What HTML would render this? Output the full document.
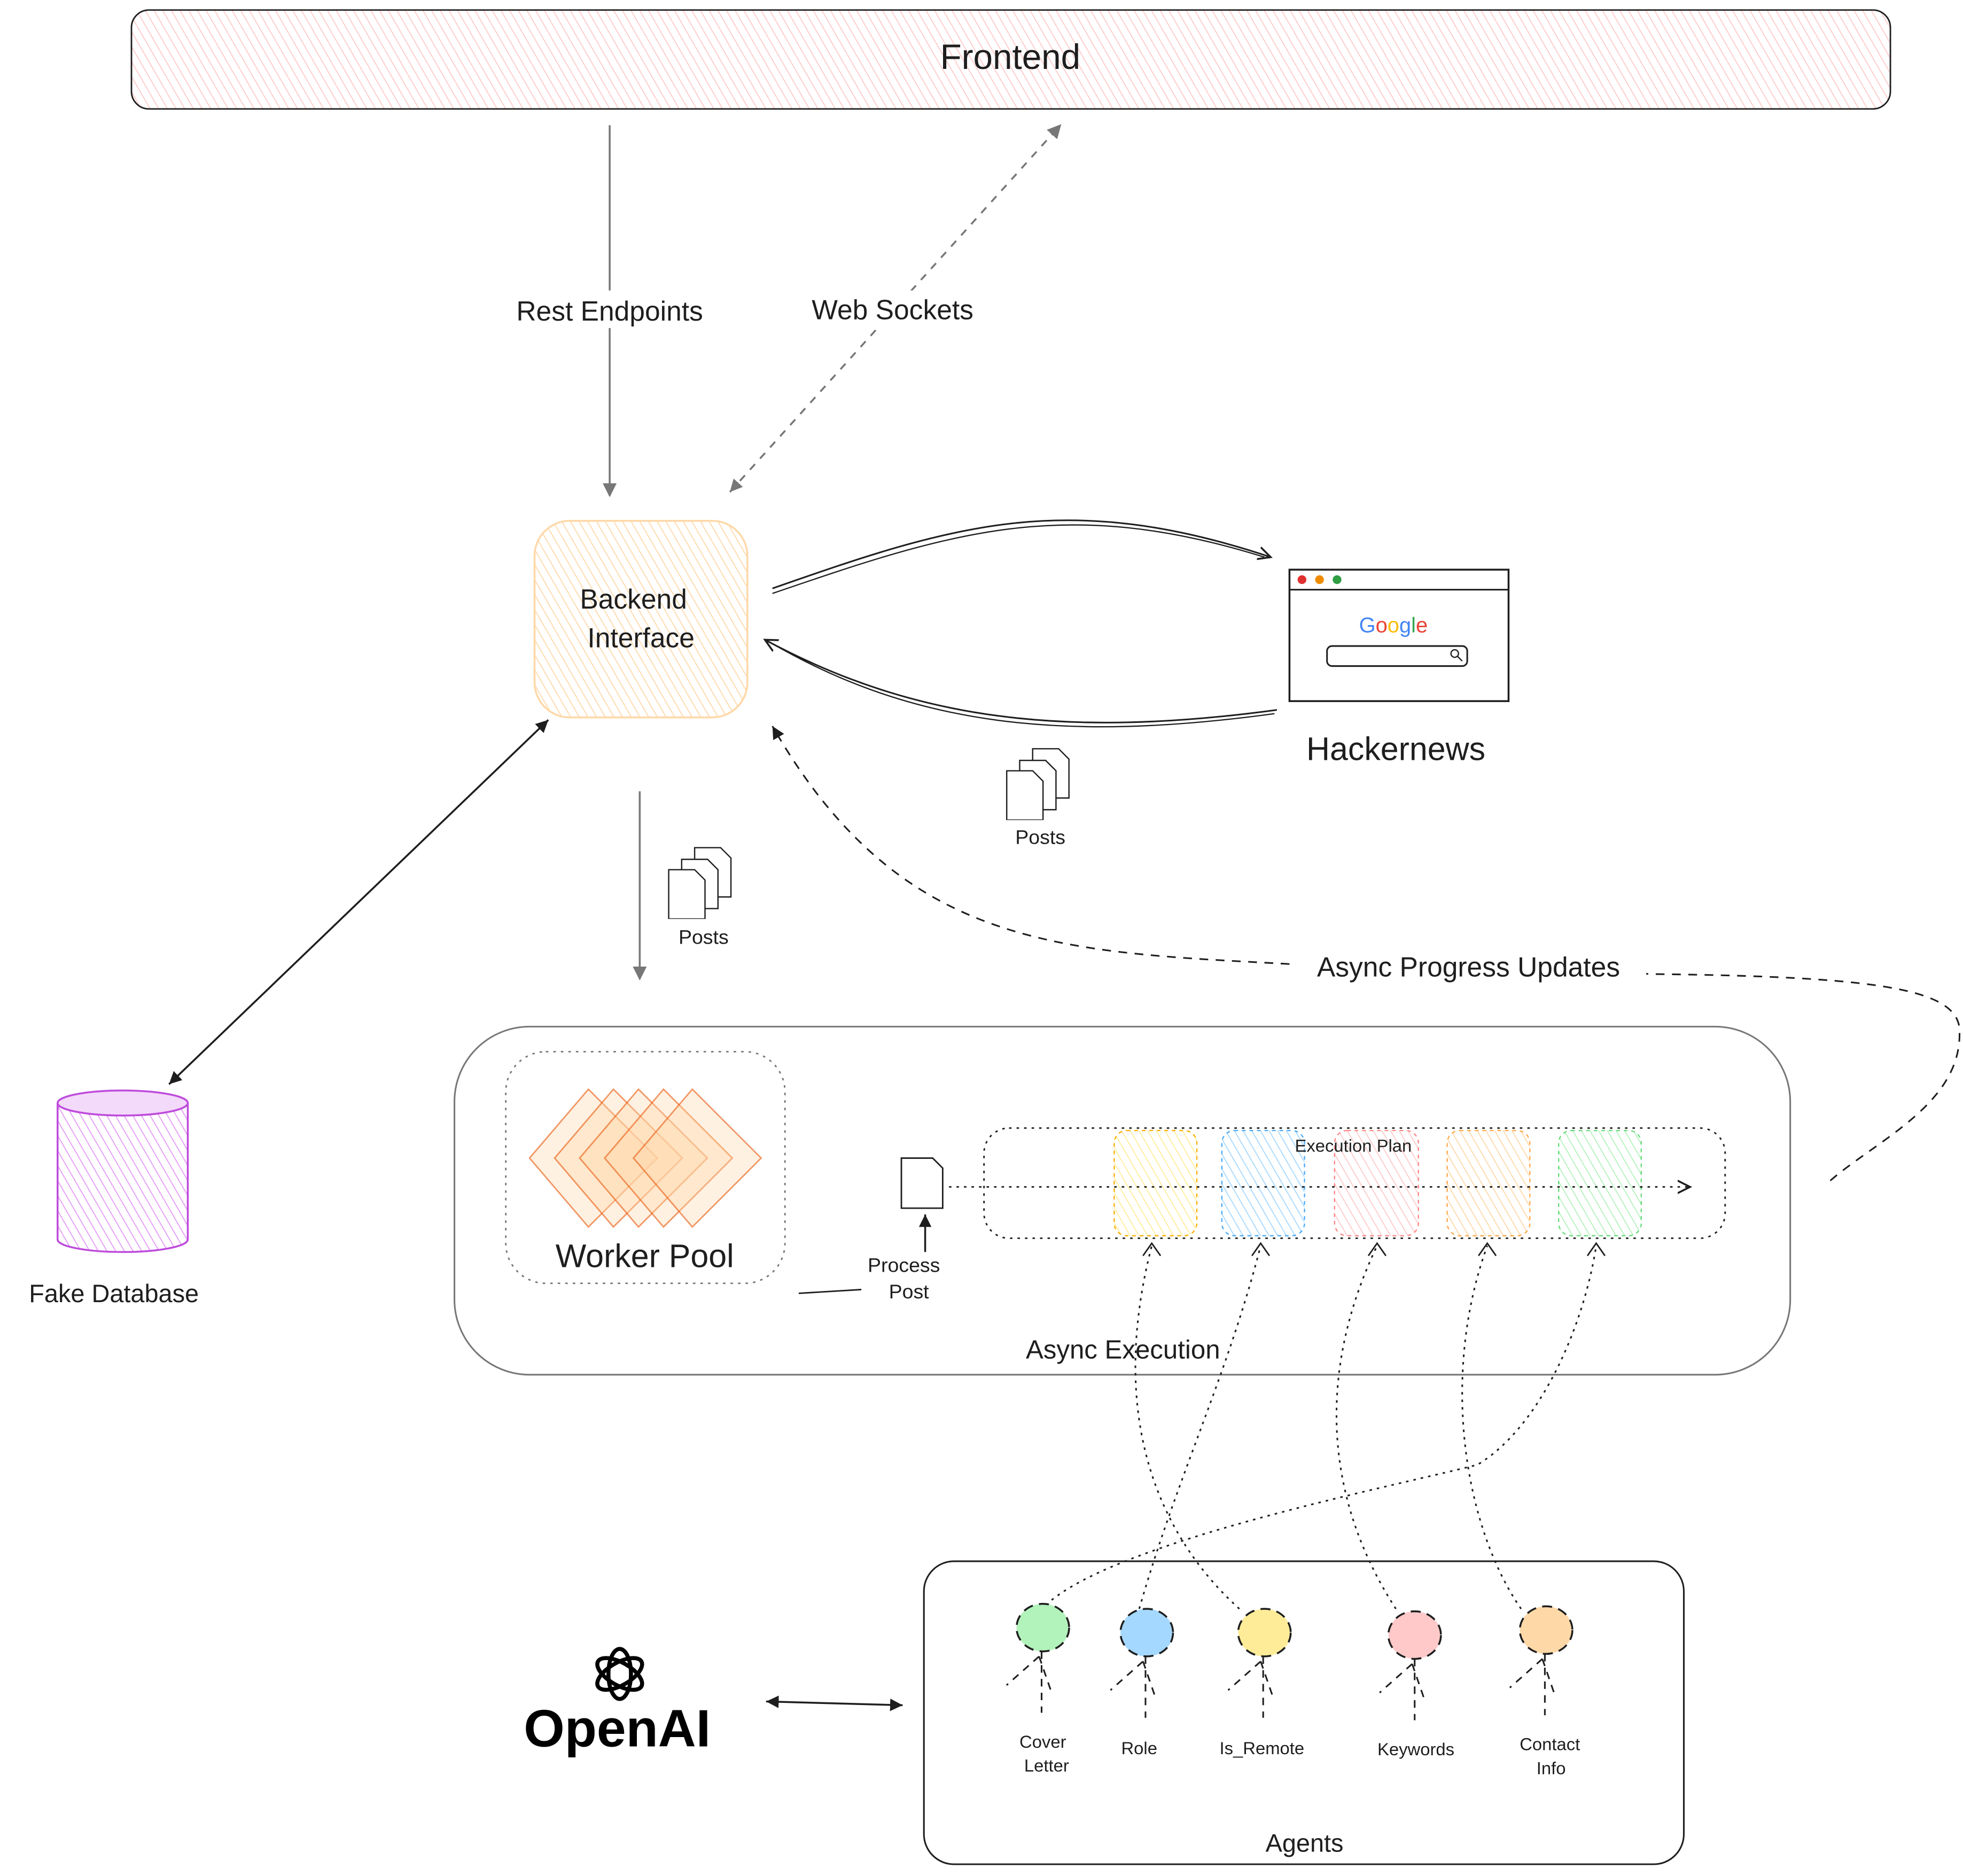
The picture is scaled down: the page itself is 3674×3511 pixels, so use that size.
<!DOCTYPE html>
<html><head><meta charset="utf-8"><style>
html,body{margin:0;padding:0;background:#fff;}
svg{display:block;}
text{font-family:"Liberation Sans",sans-serif;fill:#1e1e1e;}
</style></head><body>
<svg width="3674" height="3511" viewBox="0 0 1568 1498.4" preserveAspectRatio="none" xmlns="http://www.w3.org/2000/svg">
<defs>
<pattern id="hp" width="6" height="6" patternUnits="userSpaceOnUse" patternTransform="rotate(-30)"><rect width="6" height="6" fill="#fff"/><line x1="0" y1="0" x2="0" y2="6" stroke="#ffc9c9" stroke-width="1.5"/></pattern>
<pattern id="ho" width="6" height="6" patternUnits="userSpaceOnUse" patternTransform="rotate(-30)"><rect width="6" height="6" fill="#fff"/><line x1="0" y1="0" x2="0" y2="6" stroke="#ffd8a8" stroke-width="1.5"/></pattern>
<pattern id="hv" width="6" height="6" patternUnits="userSpaceOnUse" patternTransform="rotate(-30)"><rect width="6" height="6" fill="#fff"/><line x1="0" y1="0" x2="0" y2="6" stroke="#e599f7" stroke-width="1.5"/></pattern>
<pattern id="hy" width="6" height="6" patternUnits="userSpaceOnUse" patternTransform="rotate(-30)"><rect width="6" height="6" fill="#fff"/><line x1="0" y1="0" x2="0" y2="6" stroke="#ffec99" stroke-width="1.5"/></pattern>
<pattern id="hb" width="6" height="6" patternUnits="userSpaceOnUse" patternTransform="rotate(-30)"><rect width="6" height="6" fill="#fff"/><line x1="0" y1="0" x2="0" y2="6" stroke="#a5d8ff" stroke-width="1.5"/></pattern>
<pattern id="hk" width="6" height="6" patternUnits="userSpaceOnUse" patternTransform="rotate(-30)"><rect width="6" height="6" fill="#fff"/><line x1="0" y1="0" x2="0" y2="6" stroke="#ffc9c9" stroke-width="1.5"/></pattern>
<pattern id="hg" width="6" height="6" patternUnits="userSpaceOnUse" patternTransform="rotate(-30)"><rect width="6" height="6" fill="#fff"/><line x1="0" y1="0" x2="0" y2="6" stroke="#b2f2bb" stroke-width="1.5"/></pattern>
<marker id="ar" markerWidth="12" markerHeight="12" refX="10" refY="6" orient="auto" markerUnits="userSpaceOnUse"><path d="M0,1 L10,6 L0,11" fill="none" stroke="#1e1e1e" stroke-width="1.5"/></marker>
<marker id="arg" markerWidth="12" markerHeight="12" refX="10" refY="6" orient="auto" markerUnits="userSpaceOnUse"><path d="M0,1 L10,6 L0,11 z" fill="#777" stroke="#777"/></marker>
<marker id="arf" markerWidth="12" markerHeight="12" refX="10" refY="6" orient="auto" markerUnits="userSpaceOnUse"><path d="M0,1 L10,6 L0,11 z" fill="#1e1e1e"/></marker>
<marker id="arfs" markerWidth="12" markerHeight="12" refX="2" refY="6" orient="auto" markerUnits="userSpaceOnUse"><path d="M12,1 L2,6 L12,11 z" fill="#1e1e1e"/></marker>
<marker id="args" markerWidth="12" markerHeight="12" refX="2" refY="6" orient="auto" markerUnits="userSpaceOnUse"><path d="M12,1 L2,6 L12,11 z" fill="#777"/></marker>
<symbol id="docs" viewBox="0 0 52 56">
<g fill="#fff" stroke="#1e1e1e" stroke-width="1"><path d="M22,1 h20 l8,8 v30 h-28z"/><path d="M12,10 h20 l8,8 v30 h-28z"/><path d="M2,18 h20 l8,8 v30 h-28z"/></g>
</symbol>
</defs>

<rect x="105" y="8" width="1405" height="79" rx="14" fill="url(#hp)" stroke="#1e1e1e" stroke-width="1.2"/>
<text x="807" y="55" font-size="28" text-anchor="middle">Frontend</text>

<line x1="487" y1="100" x2="487" y2="396" stroke="#777" stroke-width="1.5" marker-end="url(#arg)"/>
<rect x="395" y="232" width="185" height="30" fill="#fff"/>
<text x="487" y="256" font-size="22" text-anchor="middle">Rest Endpoints</text>
<line x1="583" y1="393" x2="847" y2="100" stroke="#777" stroke-width="1.5" stroke-dasharray="6 6" marker-end="url(#arg)" marker-start="url(#args)"/>
<rect x="636" y="232" width="155" height="30" fill="#fff"/>
<text x="713" y="255" font-size="22" text-anchor="middle">Web Sockets</text>

<rect x="427" y="416" width="170" height="157" rx="28" fill="url(#ho)" stroke="#ffd8a8" stroke-width="1.5"/>
<text x="506" y="486" font-size="22" text-anchor="middle">Backend</text>
<text x="512" y="517" font-size="22" text-anchor="middle">Interface</text>

<path d="M617,470 C760,420 850,390 1015,445" fill="none" stroke="#1e1e1e" stroke-width="1.3" marker-end="url(#ar)"/>
<path d="M617,474 C760,425 850,395 1010,445" fill="none" stroke="#1e1e1e" stroke-width="1"/>
<path d="M1020,567 C850,590 730,575 611,511" fill="none" stroke="#1e1e1e" stroke-width="1.3" marker-end="url(#ar)"/>
<path d="M1018,570 C850,593 730,580 615,513" fill="none" stroke="#1e1e1e" stroke-width="1"/>

<rect x="1030" y="455" width="175" height="105" fill="#fff" stroke="#1e1e1e" stroke-width="1.5"/>
<line x1="1030" y1="471" x2="1205" y2="471" stroke="#1e1e1e" stroke-width="1.3"/>
<circle cx="1040" cy="463" r="3.5" fill="#e03131"/><circle cx="1054" cy="463" r="3.5" fill="#f08c00"/><circle cx="1068" cy="463" r="3.5" fill="#2f9e44"/>
<text x="1113" y="505" font-size="17" text-anchor="middle"><tspan fill="#4285f4">G</tspan><tspan fill="#ea4335">o</tspan><tspan fill="#fbbc05">o</tspan><tspan fill="#4285f4">g</tspan><tspan fill="#34a853">l</tspan><tspan fill="#ea4335">e</tspan></text>
<rect x="1060" y="516" width="112" height="16" rx="4" fill="#fff" stroke="#1e1e1e" stroke-width="1.3"/>
<circle cx="1162" cy="522" r="3" fill="none" stroke="#1e1e1e"/><line x1="1164" y1="524" x2="1168" y2="528" stroke="#1e1e1e"/>
<text x="1115" y="607" font-size="26" text-anchor="middle">Hackernews</text>

<use href="#docs" x="802" y="597" width="54" height="58"/>
<text x="831" y="674" font-size="16" text-anchor="middle">Posts</text>

<line x1="511" y1="632" x2="511" y2="782" stroke="#777" stroke-width="1.5" marker-end="url(#arg)"/>
<use href="#docs" x="532" y="676" width="54" height="58"/>
<text x="562" y="754" font-size="16" text-anchor="middle">Posts</text>

<line x1="438" y1="575" x2="135" y2="866" stroke="#1e1e1e" stroke-width="1.5" marker-end="url(#arf)" marker-start="url(#arfs)"/>
<path d="M46,881 V990 A52,10 0 0 0 150,990 V881" fill="url(#hv)" stroke="#be4bdb" stroke-width="1.5"/>
<ellipse cx="98" cy="881" rx="52" ry="10" fill="#f3d9fa" stroke="#be4bdb" stroke-width="1.5"/>
<text x="91" y="1040" font-size="20" text-anchor="middle">Fake Database</text>

<path d="M1462,943 C1500,910 1570,880 1565,820 C1560,790 1500,780 1320,778 L1210,774" fill="none" stroke="#1e1e1e" stroke-width="1.3" stroke-dasharray="7 6"/>
<path d="M1030,770 C850,760 720,760 617,580" fill="none" stroke="#1e1e1e" stroke-width="1.3" stroke-dasharray="7 6" marker-end="url(#arf)"/>
<rect x="1035" y="758" width="280" height="28" fill="#fff"/>
<text x="1173" y="780" font-size="22" text-anchor="middle">Async Progress Updates</text>

<rect x="363" y="820" width="1067" height="278" rx="60" fill="none" stroke="#777" stroke-width="1.3"/>
<text x="897" y="1085" font-size="21" text-anchor="middle">Async Execution</text>
<rect x="404" y="840" width="223" height="185" rx="32" fill="none" stroke="#777" stroke-width="1.2" stroke-dasharray="2 4"/>
<g fill="#ffd8a8" fill-opacity="0.35" stroke="#e8590c" stroke-opacity="0.6" stroke-width="1.2">
<path d="M470,870 L525,925 L470,980 L423,925 Z"/>
<path d="M490,870 L545,925 L490,980 L443,925 Z"/>
<path d="M510,870 L565,925 L510,980 L463,925 Z"/>
<path d="M530,870 L585,925 L530,980 L483,925 Z"/>
<path d="M553,870 L608,925 L553,980 L506,925 Z"/>
</g>
<text x="515" y="1012" font-size="26" text-anchor="middle">Worker Pool</text>

<path d="M720,925 h25 l8,8 v32 h-33z" fill="#fff" stroke="#1e1e1e" stroke-width="1.2"/>
<line x1="739" y1="1000" x2="739" y2="970" stroke="#1e1e1e" stroke-width="1.5" marker-end="url(#arf)"/>
<text x="722" y="1016" font-size="16" text-anchor="middle">Process</text>
<text x="726" y="1037" font-size="16" text-anchor="middle">Post</text>
<line x1="638" y1="1033" x2="688" y2="1030" stroke="#1e1e1e" stroke-width="1.2"/>

<rect x="786" y="901" width="592" height="88" rx="20" fill="none" stroke="#1e1e1e" stroke-width="1.2" stroke-dasharray="2 4"/>
<rect x="890" y="903" width="66" height="84" rx="10" fill="url(#hy)" stroke="#fab005" stroke-width="1" stroke-dasharray="3 3"/>
<rect x="976" y="903" width="66" height="84" rx="10" fill="url(#hb)" stroke="#4dabf7" stroke-width="1" stroke-dasharray="3 3"/>
<rect x="1066" y="903" width="67" height="84" rx="10" fill="url(#hk)" stroke="#ff8787" stroke-width="1" stroke-dasharray="3 3"/>
<rect x="1156" y="903" width="66" height="84" rx="10" fill="url(#ho)" stroke="#ffa94d" stroke-width="1" stroke-dasharray="3 3"/>
<rect x="1245" y="903" width="66" height="84" rx="10" fill="url(#hg)" stroke="#69db7c" stroke-width="1" stroke-dasharray="3 3"/>
<line x1="758" y1="948" x2="1350" y2="948" stroke="#1e1e1e" stroke-width="1.2" stroke-dasharray="2 4" marker-end="url(#ar)"/>
<text x="1081" y="920" font-size="14" text-anchor="middle">Execution Plan</text>

<g fill="none" stroke="#1e1e1e" stroke-width="1.3" stroke-dasharray="2 4">
<path d="M990,1285 C940,1240 880,1150 920,995"/>
<path d="M910,1285 C940,1180 980,1100 1007,995"/>
<path d="M1115,1285 C1060,1200 1050,1100 1100,995"/>
<path d="M1215,1285 C1170,1220 1150,1100 1188,995"/>
<path d="M840,1278 C900,1230 1100,1190 1180,1170 C1230,1140 1265,1060 1275,995"/>
</g>
<g fill="none" stroke="#1e1e1e" stroke-width="1.2">
<path d="M913,1003 L920,993 L927,1003"/><path d="M1000,1003 L1007,993 L1014,1003"/><path d="M1093,1003 L1100,993 L1107,1003"/><path d="M1181,1003 L1188,993 L1195,1003"/><path d="M1268,1003 L1275,993 L1282,1003"/>
</g>

<rect x="738" y="1247" width="607" height="242" rx="24" fill="none" stroke="#1e1e1e" stroke-width="1.3"/>
<text x="1042" y="1479" font-size="20" text-anchor="middle">Agents</text>
<g stroke="#1e1e1e" stroke-width="1.5" stroke-dasharray="8 5">
<ellipse cx="833" cy="1300" rx="21" ry="19" fill="#b2f2bb"/>
<ellipse cx="916" cy="1304" rx="21" ry="19" fill="#a5d8ff"/>
<ellipse cx="1010" cy="1304" rx="21" ry="19" fill="#ffec99"/>
<ellipse cx="1130" cy="1306" rx="21" ry="19" fill="#ffc9c9"/>
<ellipse cx="1235" cy="1302" rx="21" ry="19" fill="#ffd8a8"/>
</g>
<g stroke="#1e1e1e" stroke-width="1.3" stroke-dasharray="6 5" fill="none">
<path d="M832,1319 V1368 M830,1323 L804,1346 M830,1323 L840,1352"/>
<path d="M915,1323 V1372 M913,1327 L887,1350 M913,1327 L923,1356"/>
<path d="M1009,1323 V1372 M1007,1327 L981,1350 M1007,1327 L1017,1356"/>
<path d="M1130,1325 V1374 M1128,1329 L1102,1352 M1128,1329 L1138,1358"/>
<path d="M1234,1321 V1370 M1232,1325 L1206,1348 M1232,1325 L1242,1354"/>
</g>
<g font-size="14" text-anchor="middle">
<text x="833" y="1396">Cover</text><text x="836" y="1415">Letter</text>
<text x="910" y="1401">Role</text>
<text x="1008" y="1401">Is_Remote</text>
<text x="1131" y="1402">Keywords</text>
<text x="1238" y="1398">Contact</text><text x="1239" y="1417">Info</text>
</g>

<g transform="translate(495,1337)" fill="none" stroke="#000" stroke-width="3.2">
<ellipse rx="9" ry="20"/>
<ellipse rx="9" ry="20" transform="rotate(60)"/>
<ellipse rx="9" ry="20" transform="rotate(120)"/>
</g>
<text x="493" y="1395" font-size="42" font-weight="bold" text-anchor="middle" style="fill:#000">OpenAI</text>
<line x1="612" y1="1359" x2="721" y2="1362" stroke="#1e1e1e" stroke-width="1.5" marker-end="url(#arf)" marker-start="url(#arfs)"/>
</svg>
</body></html>
